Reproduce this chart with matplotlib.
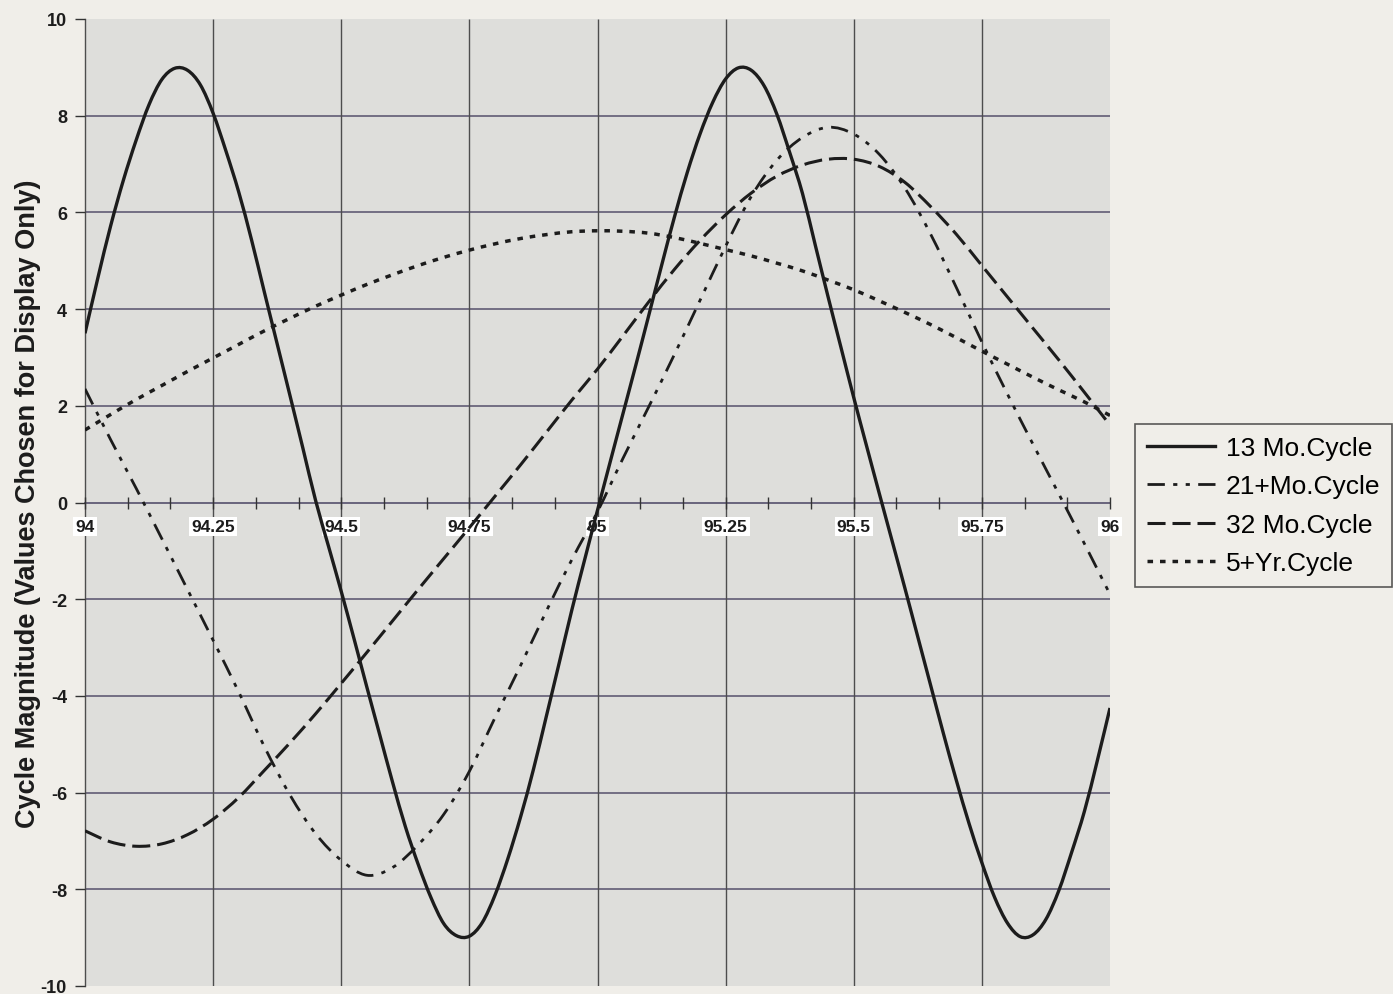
import numpy as np
import matplotlib.pyplot as plt
from matplotlib.path import Path
from matplotlib.patches import PathPatch
from matplotlib.lines import Line2D

plt.rcParams['font.family'] = ['Liberation Sans', 'DejaVu Sans']
plt.rcParams['axes.unicode_minus'] = False
plt.rcParams['lines.scale_dashes'] = False

cycle_13mo = [3.50, 4.64, 5.72, 6.67, 7.50, 8.23, 8.75, 8.98, 8.94, 8.64,
              8.05, 7.27, 6.42, 5.43, 4.35, 3.28, 2.21, 1.13, 0.04, -0.90,
              -1.84, -2.82, -3.82, -4.80, -5.78, -6.70, -7.48, -8.17, -8.71, -8.96,
              -8.97, -8.69, -8.12, -7.37, -6.50, -5.52, -4.43, -3.33, -2.22, -1.18,
              -0.16, 0.85, 1.85, 2.85, 3.87, 4.90, 5.90, 6.82, 7.62, 8.28,
              8.76, 8.99, 8.94, 8.62, 8.03, 7.24, 6.39, 5.32, 4.25, 3.21,
              2.17, 1.17, 0.18, -0.80, -1.78, -2.78, -3.78, -4.78, -5.74, -6.64,
              -7.45, -8.17, -8.70, -8.98, -8.94, -8.62, -8.03, -7.24, -6.39, -5.35,
              -4.25]

cycle_21mo = [2.35, 1.30, 0.29, -0.75, -1.80, -2.85, -3.92, -5.05, -6.05, -6.85,
              -7.40, -7.71, -7.55, -7.08, -6.45, -5.56, -4.45, -3.37, -2.25, -1.18,
              -0.19, 0.92, 1.98, 3.06, 4.18, 5.30, 6.33, 7.08, 7.55, 7.76,
              7.62, 7.20, 6.50, 5.55, 4.45, 3.32, 2.24, 1.20, 0.18, -0.85,
              -1.90]

cycle_32mo = [-6.79, -7.02, -7.11, -7.06, -6.87, -6.55, -6.10, -5.54, -4.97, -4.37,
              -3.74, -3.10, -2.45, -1.80, -1.16, -0.52, 0.13, 0.78, 1.45, 2.12,
              2.76, 3.45, 4.15, 4.82, 5.42, 5.95, 6.40, 6.75, 6.98, 7.10,
              7.10, 6.95, 6.62, 6.12, 5.55, 4.90, 4.25, 3.60, 2.95, 2.28,
              1.60]

cycle_5yr = [1.50, 1.82, 2.13, 2.42, 2.71, 2.99, 3.27, 3.55, 3.81, 4.06,
             4.29, 4.51, 4.71, 4.90, 5.07, 5.22, 5.35, 5.46, 5.54, 5.60,
             5.62, 5.61, 5.57, 5.48, 5.36, 5.23, 5.10, 4.95, 4.79, 4.60,
             4.40, 4.17, 3.93, 3.68, 3.41, 3.13, 2.86, 2.59, 2.33, 2.08,
             1.80]

labels = ['13 Mo.Cycle', '21+Mo.Cycle', '32 Mo.Cycle', '5+Yr.Cycle']
x_ticks = [94, 94.25, 94.5, 94.75, 95, 95.25, 95.5, 95.75, 96]
x_tick_labels = ['94', '94.25', '94.5', '94.75', '95', '95.25', '95.5', '95.75', '96']
y_ticks = [-10, -8, -6, -4, -2, 0, 2, 4, 6, 8, 10]

BG = '#f0eee9'
PLOT_BG = '#dededb'
GRID_H = '#55506c'
GRID_V = '#4d4d4d'
INK = '#1c1c1c'

# line styles (dash lengths in points)
styles = [
    dict(lw=2.4, ls='-'),
    dict(lw=2.0, ls=(0, (12.5, 6, 3, 6, 3, 6))),
    dict(lw=2.2, ls=(0, (13, 5))),
    dict(lw=2.5, ls=(0, (4, 5))),
]


def smooth_path(x, y):
    # Excel-style smoothed line: Catmull-Rom segments as cubic Beziers
    p = np.column_stack([x, y])
    ext = np.vstack([p[0], p, p[-1]])
    verts = [p[0]]
    codes = [Path.MOVETO]
    for i in range(len(p) - 1):
        p0, p1, p2, p3 = ext[i], ext[i + 1], ext[i + 2], ext[i + 3]
        verts += [p1 + (p2 - p0) / 6, p2 - (p3 - p1) / 6, p2]
        codes += [Path.CURVE4] * 3
    return Path(verts, codes)


fig = plt.figure(figsize=(13.93, 9.95), dpi=100, facecolor=BG)
ax = fig.add_axes([85 / 1393, 8 / 995, 1025 / 1393, 967 / 995])
ax.set_facecolor(PLOT_BG)

# grid
ax.hlines([t for t in y_ticks if abs(t) not in (0, 10)], 94, 96, colors=GRID_H, lw=1.1, zorder=1)
ax.vlines(x_ticks[1:-1], -10, 10, colors=GRID_V, lw=1.0, zorder=1)

series = [cycle_13mo, cycle_21mo, cycle_32mo, cycle_5yr]
handles = []
for values, st, lab in zip(series, styles, labels):
    xv = np.linspace(94, 96, len(values))
    ax.add_patch(PathPatch(smooth_path(xv, values), fill=False, edgecolor=INK,
                           lw=st['lw'], linestyle=st['ls'], zorder=3))
    handles.append(Line2D([], [], color=INK, lw=st['lw'], ls=st['ls'], label=lab))

ax.set_xlim(94, 96)
ax.set_ylim(-10, 10)

for s in ('top', 'right'):
    ax.spines[s].set_visible(False)
ax.spines['left'].set_color(GRID_V)
ax.spines['left'].set_linewidth(1.0)
ax.spines['bottom'].set_position(('data', 0))
ax.spines['bottom'].set_color(GRID_H)
ax.spines['bottom'].set_linewidth(1.2)
ax.set_axisbelow(False)

ax.set_xticks(x_ticks)
ax.set_xticklabels(x_tick_labels)
ax.set_xticks(np.arange(94, 96.001, 1 / 12), minor=True)
ax.tick_params(axis='x', which='both', direction='inout', length=8, width=1,
               color='#333333', labelsize=12.5, pad=8, labelcolor=INK)
ax.set_yticks(y_ticks)
ax.tick_params(axis='y', direction='out', length=7, width=1, color='#333333',
               labelsize=13, pad=6, labelcolor=INK)
for lbl in ax.get_yticklabels() + ax.get_xticklabels():
    lbl.set_fontweight('bold')
for lbl in ax.get_xticklabels():
    lbl.set_bbox(dict(facecolor='white', edgecolor='none', pad=1.5))

ax.set_ylabel('Cycle Magnitude (Values Chosen for Display Only)', fontsize=19.5,
              fontweight='bold', color=INK)
ax.yaxis.set_label_coords(-0.043, 0.5)

leg = fig.legend(handles=handles, loc='upper left',
                 bbox_to_anchor=(1135 / 1393, 1 - 425 / 995),
                 borderaxespad=0, fontsize=19, frameon=True, fancybox=False,
                 edgecolor='#333333', facecolor='none', handlelength=2.6,
                 handletextpad=0.4, labelspacing=0.55, borderpad=0.45)
leg.get_frame().set_linewidth(1.2)

fig.savefig('out.png', dpi=100, facecolor=BG)
